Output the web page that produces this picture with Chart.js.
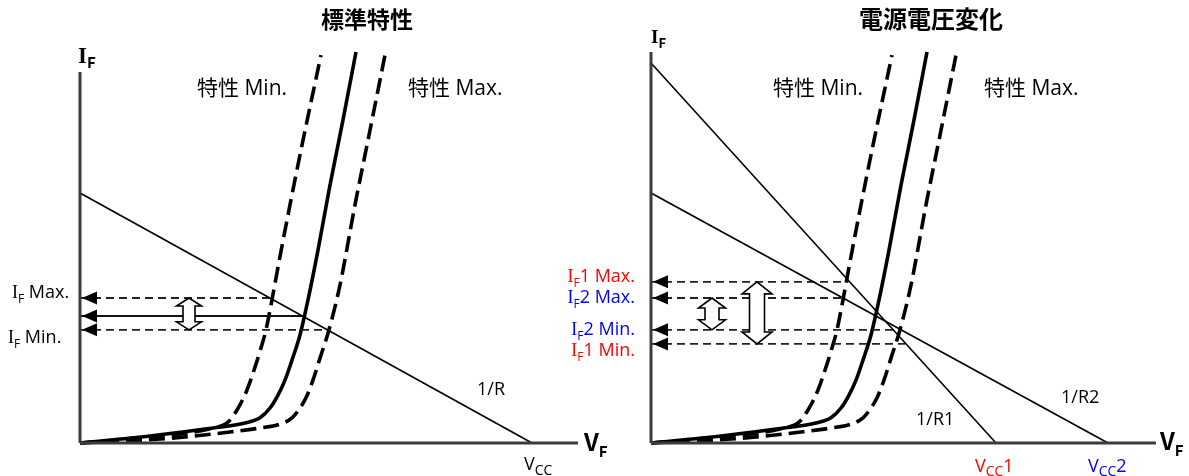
<!DOCTYPE html>
<html><head><meta charset="utf-8">
<script src="https://cdn.jsdelivr.net/npm/chart.js@4/dist/chart.umd.min.js"></script>
<style>
html,body{margin:0;padding:0;background:#fff;}
#wrap{position:relative;width:1189px;height:476px;overflow:hidden;background:#fff;}
canvas{position:absolute;top:0;}
</style></head><body>
<div id="wrap">
<canvas id="c1" width="620" height="476" style="left:0px"></canvas>
<canvas id="c2" width="649" height="476" style="left:540px"></canvas>
</div>
<script>
// ---------- data (V_F on x, I_F on y, arbitrary units) ----------
const panelTitles = ['標準特性', '電源電圧変化'];
const curveTyp = [[0,0],[1.40,0.18],[2.66,0.38],[3.30,0.51],[3.60,0.64],[3.80,0.89],[3.96,1.22],[4.10,1.60],[4.24,2.11],[4.40,2.75],[4.56,3.64],[4.76,4.91],[5.00,6.56],[5.26,8.22],[5.52,9.95]];
const curveMin = [[0,0],[1.40,0.15],[2.66,0.38],[2.96,0.53],[3.14,0.84],[3.34,1.35],[3.50,1.93],[3.62,2.42],[3.72,2.88],[3.82,3.51],[3.98,4.61],[4.18,5.93],[4.44,7.58],[4.82,9.87]];
const curveMax = [[0,0],[1.60,0.10],[3.00,0.28],[3.60,0.38],[4.00,0.48],[4.24,0.64],[4.40,0.89],[4.52,1.15],[4.66,1.60],[4.80,2.16],[4.98,2.88],[5.20,4.02],[5.50,6.06],[5.80,7.96],[6.10,9.87]];
const loadR  = [[0,6.36],[9.04,0]];
const loadR1 = [[0,9.67],[6.90,0]];
const loadR2 = [[0,6.36],[9.14,0]];
const stdLevels = [3.69, 3.23, 2.88];          // I_F Max., typ, I_F Min.
const stdLevelEnds = [3.85, 4.48, 5.00];
const supLevels = [4.10, 3.69, 2.88, 2.52];    // I_F1 Max., I_F2 Max., I_F2 Min., I_F1 Min.
const supLevelEnds = [3.95, 3.85, 5.00, 5.08];
const stdSpread = [[2.18, 2.88, 3.69]];        // [V_F position, from, to]
const supSpread = [[1.22, 2.88, 3.69],[2.12, 2.52, 4.10]];

// ---------- helpers ----------
const CJK = '"Open Sans", "Noto Sans CJK JP", sans-serif';
const CJKB = '"Noto Sans CJK JP", sans-serif';
function pts(a){ return a.map(p=>({x:p[0], y:p[1]})); }
function lineDs(a, o){ return Object.assign({data:pts(a), showLine:true, pointRadius:0, borderColor:'#000', borderWidth:1.6, fill:false, clip:false}, o||{}); }

function rich(ctx, x, y, segs, align){
  let w = 0;
  segs.forEach(s=>{ ctx.font = s.f; w += ctx.measureText(s.t).width; });
  let cx = align==='right' ? x - w : (align==='center' ? x - w/2 : x);
  ctx.textBaseline = 'alphabetic'; ctx.textAlign = 'left';
  segs.forEach(s=>{ ctx.font = s.f; ctx.fillStyle = s.c || '#000'; ctx.fillText(s.t, cx, y + (s.dy||0)); cx += ctx.measureText(s.t).width; });
}
function leftHead(ctx, x, y){
  ctx.beginPath(); ctx.moveTo(x, y); ctx.lineTo(x+15, y-6.5); ctx.lineTo(x+15, y+6.5); ctx.closePath();
  ctx.fillStyle = '#000'; ctx.fill();
}
function dblArrow(ctx, cx, yT, yB, hw, sw, hl){
  ctx.beginPath();
  ctx.moveTo(cx, yT);
  ctx.lineTo(cx+hw/2, yT+hl); ctx.lineTo(cx+sw/2, yT+hl);
  ctx.lineTo(cx+sw/2, yB-hl); ctx.lineTo(cx+hw/2, yB-hl);
  ctx.lineTo(cx, yB);
  ctx.lineTo(cx-hw/2, yB-hl); ctx.lineTo(cx-sw/2, yB-hl);
  ctx.lineTo(cx-sw/2, yT+hl); ctx.lineTo(cx-hw/2, yT+hl);
  ctx.closePath();
  ctx.fillStyle = '#fff'; ctx.fill();
  ctx.strokeStyle = '#000'; ctx.lineWidth = 1.6; ctx.stroke();
}

const curveStyle = {borderWidth:3.6, cubicInterpolationMode:'monotone'};
const dashCurve = Object.assign({borderDash:[16,7]}, curveStyle);
const axisStyle = {borderColor:'#3c3c3c', borderWidth:3};
const levelDash = {borderColor:'#222', borderWidth:1.8, borderDash:[8,5]};

function makeChart(id, cfg){
  const annot = {
    id:'annot',
    afterDatasetsDraw(chart){
      const ctx = chart.ctx, xs = chart.scales.x, ys = chart.scales.y;
      ctx.save();
      cfg.levels.forEach(l=>leftHead(ctx, xs.getPixelForValue(0)+2, ys.getPixelForValue(l)));
      cfg.spreads.forEach((s,i)=>{
        const big = cfg.spreadSizes[i];
        dblArrow(ctx, xs.getPixelForValue(s[0]), ys.getPixelForValue(s[2]), ys.getPixelForValue(s[1]), big[0], big[1], big[2]);
      });
      cfg.texts.forEach(t=>rich(ctx, t.x, t.y, t.segs, t.align));
      ctx.restore();
    }
  };
  const datasets = [
    lineDs(cfg.yAxis, axisStyle),
    lineDs(cfg.xAxis, axisStyle),
    ...cfg.loads.map(l=>lineDs(l, {borderWidth:1.6})),
    ...cfg.levels.map((l,i)=>lineDs([[0,l],[cfg.levelEnds[i],l]], cfg.solidLevel===i ? {borderColor:'#111', borderWidth:2} : levelDash)),
    lineDs(curveMin, dashCurve),
    lineDs(curveMax, dashCurve),
    lineDs(curveTyp, curveStyle)
  ];
  return new Chart(document.getElementById(id), {
    type:'scatter',
    data:{datasets},
    options:{
      responsive:false, animation:false, events:[],
      layout:{padding:cfg.padding},
      plugins:{legend:{display:false}, tooltip:{enabled:false}, title:{display:false}},
      scales:{
        x:{type:'linear', min:0, max:cfg.xMax, display:false},
        y:{type:'linear', min:0, max:10, display:false}
      }
    },
    plugins:[annot]
  });
}

const F20 = '21px '+CJK, F18 = '18px '+CJK;
const SER = '"Liberation Serif", serif';
function ifLabel(x, y, num, word, color, align){
  return {x, y, align, segs:[
    {t:'I', f:'18px '+SER, c:color},
    {t:'F', f:'12px '+CJK, c:color, dy:5},
    {t:num+' '+word, f:F18, c:color}
  ]};
}

makeChart('c1', {
  padding:{left:80, right:40, top:50, bottom:33}, xMax:10,
  yAxis:[[0,0],[0,9.44]], xAxis:[[0,0],[9.96,0]],
  loads:[loadR],
  levels:stdLevels, levelEnds:stdLevelEnds, solidLevel:1,
  spreads:stdSpread, spreadSizes:[[25,12,8]],
  texts:[
    {x:367, y:28, align:'center', segs:[{t:panelTitles[0], f:'bold 23px '+CJKB}]},
    {x:78, y:63, segs:[{t:'I', f:'bold 23px '+SER},{t:'F', f:'bold 15px '+CJKB, dy:5}]},
    {x:197, y:95, segs:[{t:'特性 Min.', f:F20}]},
    {x:408, y:95, segs:[{t:'特性 Max.', f:F20}]},
    ifLabel(12, 298, '', 'Max.', '#000'),
    ifLabel(8, 343, '', 'Min.', '#000'),
    {x:477, y:395, segs:[{t:'1/R', f:F18}]},
    {x:524, y:470, segs:[{t:'V', f:F18},{t:'CC', f:'14px '+CJK, dy:5}]},
    {x:584, y:451, segs:[{t:'V', f:'bold 24px '+CJKB},{t:'F', f:'bold 15px '+CJKB, dy:6}]}
  ]
});

makeChart('c2', {
  padding:{left:111, right:33, top:50, bottom:33}, xMax:10.1,
  yAxis:[[0,0],[0,9.95]], xAxis:[[0,0],[10.1,0]],
  loads:[loadR1, loadR2],
  levels:supLevels, levelEnds:supLevelEnds, solidLevel:-1,
  spreads:supSpread, spreadSizes:[[27,14,10],[30,15,12]],
  texts:[
    {x:391, y:28, align:'center', segs:[{t:panelTitles[1], f:'bold 24px '+CJKB}]},
    {x:111, y:43, segs:[{t:'I', f:'bold 19px '+SER},{t:'F', f:'bold 13px '+CJKB, dy:5}]},
    {x:233, y:95, segs:[{t:'特性 Min.', f:F20}]},
    {x:444, y:95, segs:[{t:'特性 Max.', f:F20}]},
    ifLabel(95, 282, '1', 'Max.', '#f00', 'right'),
    ifLabel(95, 303, '2', 'Max.', '#00f', 'right'),
    ifLabel(95, 335, '2', 'Min.', '#00f', 'right'),
    ifLabel(95, 356, '1', 'Min.', '#f00', 'right'),
    {x:376, y:425, segs:[{t:'1/R1', f:F18}]},
    {x:521, y:403, segs:[{t:'1/R2', f:F18}]},
    {x:435, y:472, segs:[{t:'V', f:F18, c:'#f00'},{t:'CC', f:'14px '+CJK, c:'#f00', dy:4},{t:'1', f:F18, c:'#f00'}]},
    {x:548, y:472, segs:[{t:'V', f:F18, c:'#00f'},{t:'CC', f:'14px '+CJK, c:'#00f', dy:4},{t:'2', f:F18, c:'#00f'}]},
    {x:620, y:450, segs:[{t:'V', f:'bold 24px '+CJKB},{t:'F', f:'bold 15px '+CJKB, dy:6}]}
  ]
});
</script>
</body></html>
